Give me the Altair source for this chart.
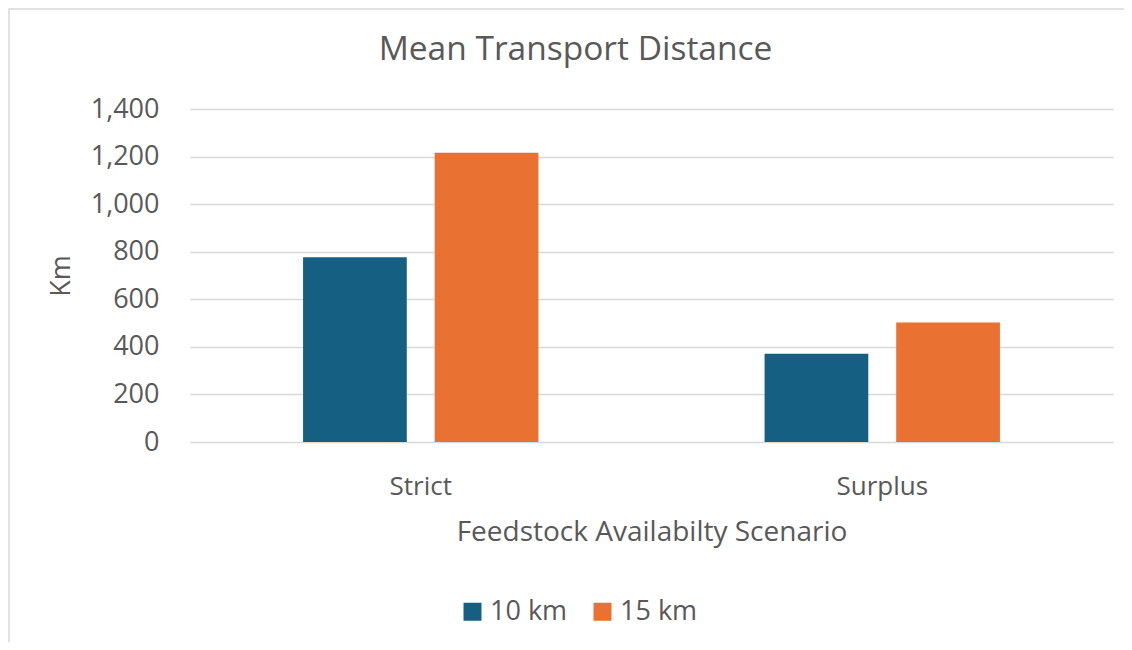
import altair as alt
import pandas as pd

scenarios = ["Strict", "Surplus"]
series = ["10 km", "15 km"]
values_10km = [777, 371]
values_15km = [1216, 502]
colors = ["#156082", "#E97132"]
y_ticks = [0, 200, 400, 600, 800, 1000, 1200, 1400]

rows = []
for i, s in enumerate(scenarios):
    rows.append({"Scenario": s, "Radius": series[0], "Km": values_10km[i]})
    rows.append({"Scenario": s, "Radius": series[1], "Km": values_15km[i]})
df = pd.DataFrame(rows)

FONT = "Open Sans"
TEXT = "#595959"

border = alt.Chart(pd.DataFrame({"k": [0]})).mark_rect(
    filled=False, stroke="#d9d9d9", strokeWidth=1.5
).encode(
    x=alt.value(-181), x2=alt.value(960), y=alt.value(-100), y2=alt.value(600)
)

bars = alt.Chart(df).mark_bar().encode(
    x=alt.X(
        "Scenario:N", sort=scenarios,
        scale=alt.Scale(paddingInner=0.49, paddingOuter=0.245),
        axis=alt.Axis(
            title="Feedstock Availabilty Scenario", labelAngle=0, domain=False,
            ticks=False, tickSize=0, grid=False,
            labelPadding=52, labelBaseline="alphabetic", labelFontSize=26,
            labelColor=TEXT, labelFont=FONT,
            titleFontSize=28, titleFont=FONT, titleColor=TEXT,
            titleFontWeight="normal", titleBaseline="alphabetic", titleY=98,
        ),
    ),
    xOffset=alt.XOffset(
        "Radius:N", sort=series,
        scale=alt.Scale(paddingInner=0.212, paddingOuter=0),
    ),
    y=alt.Y(
        "Km:Q", scale=alt.Scale(domain=[0, 1400]),
        axis=alt.Axis(
            values=y_ticks, format=",.0f", title="Km", domain=False,
            ticks=False, tickSize=0, grid=True, gridColor="#d9d9d9",
            gridWidth=1.4, labelPadding=31, labelFontSize=27, labelFont=FONT,
            labelColor=TEXT, titleFontSize=27, titleFont=FONT,
            titleColor=TEXT, titleFontWeight="normal", titleAngle=270,
            titleX=-129, titleY=166.5, titleAlign="center",
            titleBaseline="middle",
        ),
    ),
    color=alt.Color(
        "Radius:N", sort=series,
        scale=alt.Scale(domain=series, range=colors),
        legend=alt.Legend(
            title=None, orient="none", legendX=269, legendY=489,
            direction="horizontal", symbolType="square", symbolSize=324,
            symbolStrokeWidth=0, labelFontSize=27, labelFont=FONT,
            labelColor=TEXT, labelOffset=4, columnPadding=21,
        ),
    ),
)

chart = alt.layer(border, bars).properties(
    width=923,
    height=333,
    title=alt.Title(
        "Mean Transport Distance", fontSize=33.5, font=FONT, color=TEXT,
        fontWeight="normal", anchor="middle", dx=-76, offset=-85,
        baseline="alphabetic",
    ),
    autosize=alt.AutoSizeParams(type="none"),
    padding={"left": 182, "top": 101, "right": 11, "bottom": 200},
).configure_view(stroke=None)

chart.save("out.html", embed_options={"renderer": "svg", "actions": False})
